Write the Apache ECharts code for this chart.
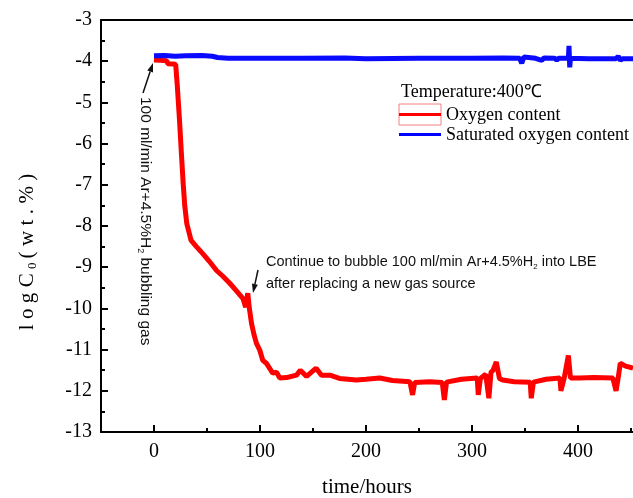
<!DOCTYPE html>
<html><head><meta charset="utf-8">
<script src="https://cdn.jsdelivr.net/npm/echarts@6/dist/echarts.min.js"></script>
<style>html,body{margin:0;padding:0;background:#fff}#c{width:633px;height:498px}</style>
</head><body><div id="c"></div>
<script>
const xTicks = [0, 100, 200, 300, 400];
const xMinorTicks = [50, 150, 250, 350, 450];

const redTime = [0, 6, 12, 13, 18, 20.5, 22, 24, 26, 27.5, 29, 31, 35, 40, 46, 52, 59, 65, 71.5, 78, 84, 86.5, 88, 88.5, 90, 92, 94.5, 96.7, 99.8, 102.6, 106, 112, 115.6, 118.7, 125, 134.5, 138, 144, 153, 158, 166, 175, 191, 200, 213, 225, 241.5, 244, 246, 260, 272, 274, 276, 290, 305, 306, 308, 313, 316, 318, 320, 323, 326, 329, 340, 355, 356, 358, 370, 383, 384, 387, 391, 393, 402, 415, 433, 436, 438, 440, 445, 452];
const redLog = [-3.97, -3.98, -3.99, -4.06, -4.07, -4.08, -4.6, -5.4, -6.3, -6.95, -7.5, -7.95, -8.35, -8.5, -8.67, -8.85, -9.08, -9.22, -9.39, -9.58, -9.76, -9.97, -9.95, -9.63, -10.0, -10.36, -10.65, -10.85, -11.01, -11.26, -11.33, -11.57, -11.55, -11.69, -11.68, -11.62, -11.5, -11.65, -11.45, -11.62, -11.62, -11.7, -11.74, -11.72, -11.69, -11.75, -11.78, -12.1, -11.8, -11.78, -11.8, -12.22, -11.79, -11.72, -11.69, -12.1, -11.7, -11.6, -12.18, -11.55, -11.5, -11.3, -11.7, -11.74, -11.78, -11.79, -12.18, -11.79, -11.72, -11.69, -12.0, -11.7, -11.14, -11.69, -11.69, -11.68, -11.69, -12.0, -11.69, -11.33, -11.4, -11.45];

const blueTime = [0, 10, 20, 30, 45, 55, 60, 70, 100, 140, 180, 200, 250, 300, 330, 345, 347, 349, 360, 366, 368, 378, 380, 382, 391, 391.6, 392.3, 393, 410, 436, 438, 440, 442, 452];
const blueLog = [-3.87, -3.86, -3.88, -3.87, -3.86, -3.88, -3.91, -3.93, -3.93, -3.93, -3.92, -3.94, -3.93, -3.93, -3.92, -3.93, -4.05, -3.9, -3.93, -3.98, -3.92, -3.93, -3.97, -3.93, -3.93, -3.63, -4.15, -3.93, -3.94, -3.94, -3.88, -3.98, -3.94, -3.94];

const seriesNames = ['Oxygen content', 'Saturated oxygen content'];
const legendTitle = 'Temperature:400\u2103';
const xName = 'time/hours';

const chart = echarts.init(document.getElementById('c'), null, {renderer: 'canvas'});
const SERIF = '"Liberation Serif", "Times New Roman", serif';
const SANS = '"Liberation Sans", Arial, sans-serif';

function arrow(x1, y1, x2, y2) {
  const dx = x2 - x1, dy = y2 - y1, L = Math.hypot(dx, dy);
  const ux = dx / L, uy = dy / L, px = -uy, py = ux;
  const hl = 9, hw = 3;
  const bx = x2 - ux * hl, by = y2 - uy * hl;
  return [
    {type: 'line', shape: {x1: x1, y1: y1, x2: bx, y2: by}, style: {stroke: '#111', lineWidth: 1.5}},
    {type: 'polygon', shape: {points: [[x2, y2], [bx + px * hw, by + py * hw], [bx - px * hw, by - py * hw]]}, style: {fill: '#111'}}
  ];
}

// y-axis title with the wide letter spacing of the original
const yNameRich = 'logC'.split('').map(c => '{c|' + c + '}').join('') + '{s|0}' +
  '(wt.%)'.split('').map(c => '{c|' + c + '}').join('');

const graphics = [
  {type: 'text', x: 27, y: 252, rotation: Math.PI / 2,
   style: {text: yNameRich, font: '21px ' + SERIF, fill: '#000', align: 'center', verticalAlign: 'middle',
     rich: {c: {fontSize: 21, fontFamily: SERIF, padding: [0, 2.7, 0, 2.7]},
            s: {fontSize: 13, fontFamily: SERIF, padding: [12, 1.5, 0, 1.5], verticalAlign: 'bottom'}}}},
  {type: 'text', x: 401, y: 92,
   style: {text: legendTitle, font: '18px ' + SERIF, fill: '#000', verticalAlign: 'middle'}},
  {type: 'rect', shape: {x: 399, y: 104, width: 42, height: 21}, style: {fill: 'none', stroke: '#f08080', lineWidth: 1}},
  {type: 'line', shape: {x1: 399, y1: 114.5, x2: 441, y2: 114.5}, style: {stroke: '#ff0000', lineWidth: 3}},
  {type: 'text', x: 446, y: 115, style: {text: seriesNames[0], font: '18px ' + SERIF, fill: '#000', verticalAlign: 'middle'}},
  {type: 'line', shape: {x1: 399, y1: 134.5, x2: 441, y2: 134.5}, style: {stroke: '#0000ff', lineWidth: 3}},
  {type: 'text', x: 446, y: 135, style: {text: seriesNames[1], font: '18px ' + SERIF, fill: '#000', verticalAlign: 'middle'}},
  {type: 'text', x: 145, y: 97, rotation: -Math.PI / 2,
   style: {text: '100 ml/min Ar+4.5%H{sub|2} bubbling gas', font: '15.5px ' + SANS, fill: '#111', align: 'left', verticalAlign: 'middle',
     rich: {sub: {fontSize: 9, fontFamily: SANS, padding: [9, 0, 0, 0], verticalAlign: 'bottom'}}}},
  {type: 'text', x: 266, y: 262,
   style: {text: 'Continue to bubble 100 ml/min Ar+4.5%H{sub|2} into LBE', font: '14.5px ' + SANS, fill: '#111', verticalAlign: 'middle',
     rich: {sub: {fontSize: 8, fontFamily: SANS, padding: [9, 0, 0, 0], verticalAlign: 'bottom'}}}},
  {type: 'text', x: 266, y: 284,
   style: {text: 'after replacing a new gas source', font: '14.5px ' + SANS, fill: '#111', verticalAlign: 'middle'}}
].concat(arrow(143, 93, 153, 63), arrow(258, 270, 253, 293));

const labelStyle = {color: '#000', fontFamily: SERIF, fontSize: 20};

chart.setOption({
  animation: false,
  backgroundColor: '#fff',
  grid: {left: 101, right: 0, top: 20, bottom: 66, containLabel: false, outerBoundsMode: 'none'},
  xAxis: [
    {type: 'value', position: 'bottom', min: -50, max: 452,
     name: xName, nameLocation: 'middle', nameGap: 45, nameTextStyle: {color: '#000', fontFamily: SERIF, fontSize: 21},
     axisLine: {show: true, onZero: false, lineStyle: {color: '#000', width: 2}},
     axisTick: {show: true, inside: true, length: 7, customValues: xTicks, lineStyle: {color: '#000', width: 2}},
     axisLabel: Object.assign({customValues: xTicks, margin: 10}, labelStyle),
     splitLine: {show: false}},
    {type: 'value', position: 'bottom', min: -50, max: 452,
     axisLine: {show: false, onZero: false},
     axisTick: {show: true, inside: true, length: 4, customValues: xMinorTicks, lineStyle: {color: '#000', width: 2}},
     axisLabel: {show: false}, splitLine: {show: false}},
    {type: 'value', position: 'top', min: -50, max: 452,
     axisLine: {show: true, onZero: false, lineStyle: {color: '#000', width: 2}},
     axisTick: {show: false}, axisLabel: {show: false}, splitLine: {show: false}}
  ],
  yAxis: [{type: 'value', min: -13, max: -3, interval: 1,
    axisLine: {show: true, onZero: false, lineStyle: {color: '#000', width: 2}},
    axisTick: {show: true, inside: true, length: 7, lineStyle: {color: '#000', width: 2}},
    minorTick: {show: true, splitNumber: 2, length: 4, lineStyle: {color: '#000', width: 2}},
    axisLabel: Object.assign({margin: 9}, labelStyle),
    splitLine: {show: false}}],
  series: [
    {name: seriesNames[0], type: 'line', xAxisIndex: 0, yAxisIndex: 0, showSymbol: false, symbol: 'none',
     data: redTime.map((t, i) => [t, redLog[i]]), lineStyle: {color: '#ff0000', width: 5}, z: 2},
    {name: seriesNames[1], type: 'line', xAxisIndex: 0, yAxisIndex: 0, showSymbol: false, symbol: 'none',
     data: blueTime.map((t, i) => [t, blueLog[i]]), lineStyle: {color: '#0a0aff', width: 5}, z: 3}
  ],
  graphic: graphics
});
</script>
</body></html>
